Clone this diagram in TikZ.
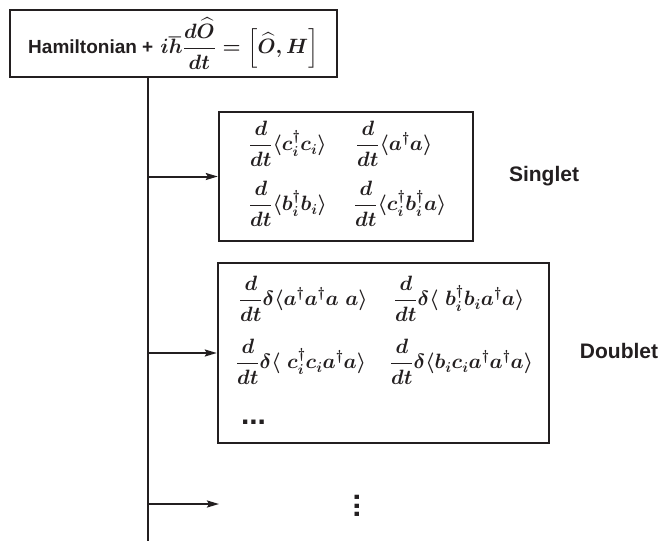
\documentclass[tikz,border=0pt]{standalone}
\usepackage{amsmath,amssymb}
\usepackage{fontspec}
\setmainfont{Liberation Sans}
\usetikzlibrary{arrows.meta,positioning,calc}
\definecolor{inkDark}{HTML}{231F20}

\begin{document}
\begin{tikzpicture}[
      x=1pt, y=-1pt,
      every node/.style={text=inkDark},
      framebox/.style={
        rectangle, draw=inkDark, line width=2.4pt, inner sep=0pt
      },
      term/.style={anchor=west, inner sep=0pt,
        font=\fontsize{20}{24}\selectfont\boldmath},
      tag/.style={font=\fontsize{21}{25}\selectfont\bfseries},
      dots/.style={font=\fontsize{30}{30}\selectfont\bfseries, inner sep=0pt},
      trunk/.style={draw=inkDark, line width=2.6pt},
      arrow/.style={-{Stealth[length=12pt, width=7pt, inset=2pt]}, draw=inkDark, line width=2pt}
    ]
      \useasboundingbox (0,0) rectangle (664,541);

      % equation of motion
      \node[framebox, minimum width=327pt, minimum height=67pt] (ham) at (173.5,43.5)
        {{\fontsize{19}{23}\selectfont\bfseries Hamiltonian +}\hspace{7pt}%
         {\fontsize{22}{26}\selectfont\boldmath$\displaystyle i\hbar\frac{d\widehat{O}}{dt}=\Bigl[\widehat{O},H\Bigr]$}};

      % singlet block
      \node[framebox, minimum width=254pt, minimum height=129pt] (singlet) at (346,176.5) {};
      \node[term] (s11) at ([shift={(31,33)}]singlet.north west) {$\displaystyle\frac{d}{dt}\langle c_i^\dagger c_i\rangle$};
      \node[term] (s12) at ([shift={(138,33)}]singlet.north west) {$\displaystyle\frac{d}{dt}\langle a^\dagger a\rangle$};
      \node[term] (s21) at ([shift={(31,93)}]singlet.north west) {$\displaystyle\frac{d}{dt}\langle b_i^\dagger b_i\rangle$};
      \node[term] (s22) at ([shift={(136,93)}]singlet.north west) {$\displaystyle\frac{d}{dt}\langle c_i^\dagger b_i^\dagger a\rangle$};
      \node[tag] (singletTag) at (544,176) {Singlet};

      % doublet block
      \node[framebox, minimum width=331pt, minimum height=180pt] (doublet) at (383.5,353) {};
      \node[term] (d11) at ([shift={(22,37)}]doublet.north west) {$\displaystyle\frac{d}{dt}\delta\langle a^\dagger a^\dagger a\;a\rangle$};
      \node[term] (d12) at ([shift={(177,37)}]doublet.north west) {$\displaystyle\frac{d}{dt}\delta\langle\;b_i^\dagger b_i a^\dagger a\rangle$};
      \node[term] (d21) at ([shift={(19,100)}]doublet.north west) {$\displaystyle\frac{d}{dt}\delta\langle\;c_i^\dagger c_i a^\dagger a\rangle$};
      \node[term] (d22) at ([shift={(173,100)}]doublet.north west) {$\displaystyle\frac{d}{dt}\delta\langle b_i c_i a^\dagger a^\dagger a\rangle$};
      \node[dots, anchor=south west] (d31) at ([shift={(24,163)}]doublet.north west) {...};
      \node[tag] (doubletTag) at (619,351) {Doublet};

      % further orders
      \coordinate (trunkEnd) at (148,541);
      \coordinate (moreEnd) at (219,504);
      \node[dots, rotate=90, anchor=south] (moreDots) at (360,506) {...};

      \draw[trunk] (ham.south -| trunkEnd) -- (trunkEnd);
      \draw[arrow] (singlet.west -| trunkEnd) -- (singlet.west);
      \draw[arrow] (doublet.west -| trunkEnd) -- (doublet.west);
      \draw[arrow] (moreEnd -| trunkEnd) -- (moreEnd);
    \end{tikzpicture}
\end{document}
